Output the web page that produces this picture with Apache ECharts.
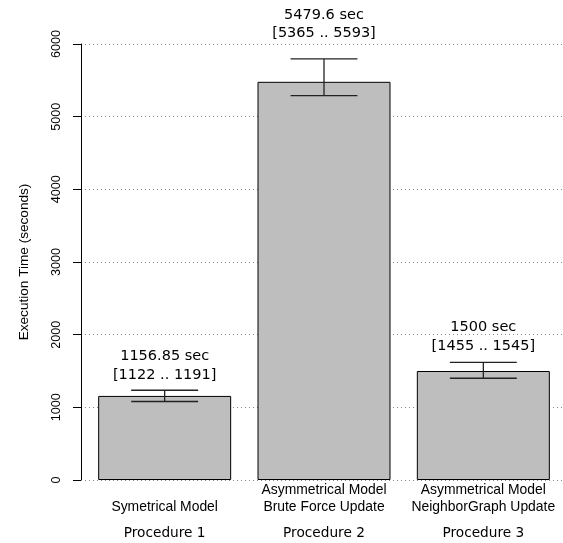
<!DOCTYPE html>
<html>
<head>
<meta charset="utf-8">
<style>
  html, body { margin: 0; padding: 0; background: #fff; }
  #chart { width: 563px; height: 543px; }
</style>
<script src="https://cdn.jsdelivr.net/npm/echarts@6/dist/echarts.min.js"></script>
</head>
<body>
<div id="chart"></div>
<script>
// Execution time per procedure (seconds)
const procedures = ['Procedure 1', 'Procedure 2', 'Procedure 3'];
const models = ['Symetrical Model', 'Asymmetrical Model\nBrute Force Update', 'Asymmetrical Model\nNeighborGraph Update'];
const meanTimes = [1156.85, 5479.6, 1500];
const ciLow = [1122, 5365, 1455];
const ciHigh = [1191, 5593, 1545];
const errLow = [1080, 5290, 1400];
const errHigh = [1235, 5795, 1620];
const yTicks = [0, 1000, 2000, 3000, 4000, 5000, 6000];

// gap in pixels between error-bar cap and the two-line annotation
const labelLift = [6, 16, 7];

const chart = echarts.init(document.getElementById('chart'), null, { renderer: 'canvas' });

const option = {
  animation: false,
  backgroundColor: '#ffffff',
  grid: { left: 85, right: 0, top: 44, bottom: 63, containLabel: false },
  xAxis: [
    {
      type: 'category',
      data: models,
      position: 'bottom',
      axisLine: { show: false },
      axisTick: { show: false },
      axisLabel: {
        interval: 0,
        margin: 2,
        fontFamily: 'Liberation Sans',
        fontSize: 13.9,
        lineHeight: 17,
        color: '#000',
        verticalAlign: 'top',
        formatter: v => (v.indexOf('\n') < 0 ? '\n' + v : v)
      }
    },
    {
      type: 'category',
      data: procedures,
      position: 'bottom',
      offset: 0,
      axisLine: { show: false },
      axisTick: { show: false },
      axisLabel: {
        interval: 0,
        margin: 46,
        fontFamily: 'DejaVu Sans',
        fontSize: 13.7,
        color: '#000',
        verticalAlign: 'top'
      }
    }
  ],
  yAxis: {
    type: 'value',
    min: yTicks[0],
    max: yTicks[yTicks.length - 1],
    interval: 1000,
    offset: 4,
    name: 'Execution Time (seconds)',
    nameLocation: 'middle',
    nameGap: 50,
    nameRotate: 90,
    nameTextStyle: { fontFamily: 'Liberation Sans', fontSize: 13.6, color: '#000' },
    axisLine: { show: true, lineStyle: { color: '#000', width: 1 } },
    axisTick: { show: true, length: 8, lineStyle: { color: '#000', width: 1 } },
    axisLabel: {
      rotate: 90,
      margin: 18,
      fontFamily: 'Liberation Sans',
      fontSize: 12.6,
      color: '#000',
      formatter: v => String(v)
    },
    splitLine: { show: true, lineStyle: { color: '#888', width: 1, type: [1, 3] } }
  },
  series: [
    {
      type: 'bar',
      xAxisIndex: 0,
      data: meanTimes,
      barWidth: 133,
      itemStyle: { color: '#bebebe', borderColor: '#000', borderWidth: 1 },
      z: 2
    },
    {
      type: 'custom',
      xAxisIndex: 0,
      z: 5,
      data: meanTimes.map((v, i) => [i, errLow[i], errHigh[i], v, ciLow[i], ciHigh[i]]),
      renderItem: (params, api) => {
        const i = api.value(0);
        const lo = api.coord([i, api.value(1)]);
        const hi = api.coord([i, api.value(2)]);
        const half = api.size([1, 0])[0] * 0.21;
        const stroke = { stroke: '#222', lineWidth: 1.3 };
        const text = api.value(3) + ' sec\n[' + api.value(4) + ' .. ' + api.value(5) + ']';
        return {
          type: 'group',
          children: [
            { type: 'line', shape: { x1: hi[0], y1: hi[1], x2: lo[0], y2: lo[1] }, style: stroke },
            { type: 'line', shape: { x1: hi[0] - half, y1: hi[1], x2: hi[0] + half, y2: hi[1] }, style: stroke },
            { type: 'line', shape: { x1: lo[0] - half, y1: lo[1], x2: lo[0] + half, y2: lo[1] }, style: stroke },
            {
              type: 'text',
              style: {
                x: hi[0],
                y: hi[1] - labelLift[params.dataIndex],
                text: text,
                textAlign: 'center',
                textVerticalAlign: 'bottom',
                fontFamily: 'DejaVu Sans',
                fontSize: 14.5,
                lineHeight: 18.5,
                fill: '#000'
              }
            }
          ]
        };
      }
    }
  ]
};

chart.setOption(option);
</script>
</body>
</html>
